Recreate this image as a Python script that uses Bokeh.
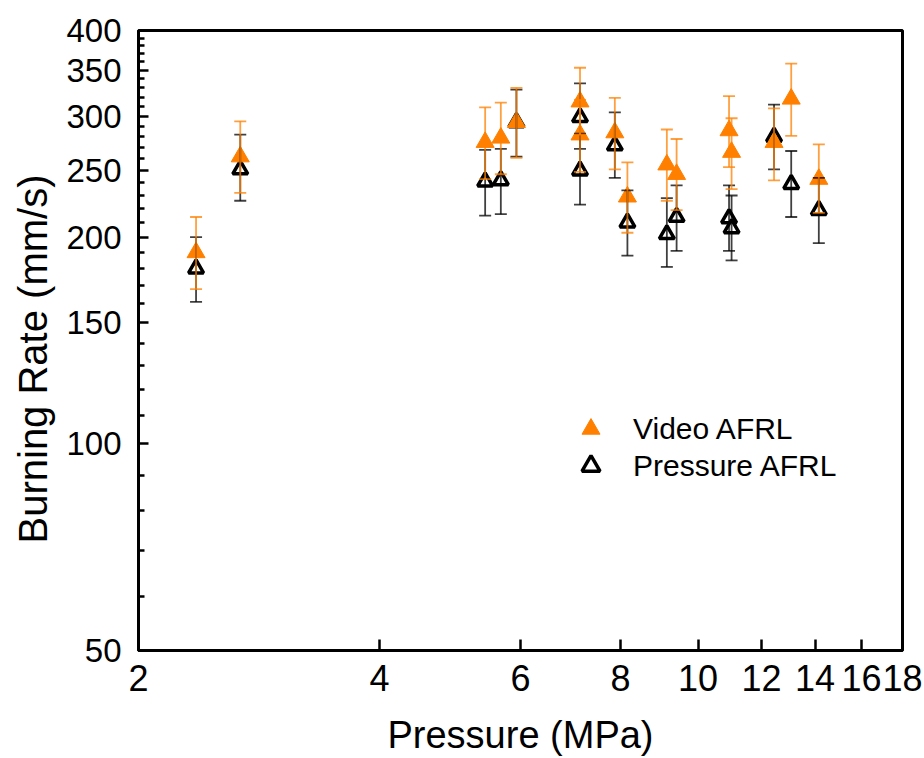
from bokeh.plotting import figure
from bokeh.models import (ColumnDataSource, Range1d, FixedTicker, PrintfTickFormatter,
                          Whisker, TeeHead, Legend, LegendItem, Title)
from bokeh.embed import file_html
from bokeh.resources import INLINE

# ---- data ----
pressure_mpa = [2.36, 2.68, 5.42, 5.67, 5.93, 7.12, 7.12, 7.87, 8.16, 9.14, 9.40, 10.93, 11.01, 12.44, 13.07, 14.15]

video_rate = [190, 262, 275, 279, 294, 315, 282, 284, 229, 255, 247, 286, 266, 275, 318, 243]
video_lo   = [168, 232, 243, 247, 261, 282, 249, 251, 203, 226, 219, 253, 235, 242, 281, 217]
video_hi   = [214, 295, 309, 314, 330, 353, 317, 319, 257, 287, 278, 321, 298, 308, 358, 273]

press_rate = [180, 251, 241, 242, 294, 299, 250, 272, 210, 202, 214, 213, 206, 280, 239, 219]
press_lo   = [161, 226, 215, 216, 262, 269, 223, 244, 188, 181, 191, 191, 185, 251, 214, 196]
press_hi   = [200, 282, 268, 269, 328, 335, 283, 304, 234, 228, 238, 238, 230, 312, 267, 244]

x_ticks = [2, 4, 6, 8, 10, 12, 14, 16, 18]
y_ticks = [50, 100, 150, 200, 250, 300, 350, 400]
y_minor = [v for v in range(60, 400, 10) if v % 50 != 0]

series_names = ["Video AFRL", "Pressure AFRL"]
x_title = "Pressure (MPa)"
y_title = "Burning Rate (mm/s)"
ORANGE = "#FF8000"
FONT = "Liberation Sans"

# ---- figure ----
p = figure(width=924, height=758, x_axis_type="log", y_axis_type="log",
           x_range=Range1d(2, 18), y_range=Range1d(50, 400),
           output_backend="svg", toolbar_location=None,
           min_border_left=137, min_border_right=22, min_border_top=30, min_border_bottom=108)
p.background_fill_color = "white"
p.border_fill_color = "white"
p.grid.visible = False
p.outline_line_color = "black"
p.outline_line_width = 3

vsrc = ColumnDataSource(dict(x=pressure_mpa, y=video_rate, lo=video_lo, hi=video_hi))
psrc = ColumnDataSource(dict(x=pressure_mpa, y=press_rate, lo=press_lo, hi=press_hi))

r_press = p.scatter("x", "y", source=psrc, marker="triangle", size=15,
                    fill_color="white", line_color="black", line_width=3.5)
r_video = p.scatter("x", "y", source=vsrc, marker="triangle", size=18,
                    fill_color=ORANGE, line_color=ORANGE, line_width=1)

for src, col in [(psrc, "black"), (vsrc, ORANGE)]:
    w = Whisker(base="x", upper="hi", lower="lo", source=src, dimension="height",
                line_color=col, line_alpha=0.75, line_width=1.8, level="annotation",
                upper_head=TeeHead(size=12, line_color=col, line_alpha=0.75, line_width=1.8),
                lower_head=TeeHead(size=12, line_color=col, line_alpha=0.75, line_width=1.8))
    p.add_layout(w)

# ---- axes ----
xa = p.xaxis[0]
xa.ticker = FixedTicker(ticks=x_ticks, minor_ticks=[])
xa.formatter = PrintfTickFormatter(format="%d")
ya = p.yaxis[0]
ya.ticker = FixedTicker(ticks=y_ticks, minor_ticks=y_minor)
ya.formatter = PrintfTickFormatter(format="%d")

for ax in (xa, ya):
    ax.axis_line_width = 3
    ax.axis_line_color = "black"
    ax.major_tick_in = 10
    ax.major_tick_out = 0
    ax.minor_tick_in = 6
    ax.minor_tick_out = 0
    ax.major_tick_line_width = 2.5
    ax.minor_tick_line_width = 2.5
    ax.major_label_text_font = FONT
    ax.major_label_text_color = "black"
xa.major_tick_in = 11
xa.major_label_text_font_size = "36px"
ya.major_label_text_font_size = "33px"
xa.major_label_standoff = 14
ya.major_label_standoff = 17

xa.axis_label = x_title
xa.axis_label_text_font = FONT
xa.axis_label_text_font_style = "normal"
xa.axis_label_text_font_size = "38px"
xa.axis_label_text_color = "black"
xa.axis_label_standoff = 20

ytitle = Title(text=y_title, align="left", offset=107, standoff=17,
               text_font=FONT, text_font_size="40px", text_font_style="normal",
               text_color="black")
p.add_layout(ytitle, "left")

# ---- legend (one entry per box, to match row spacing) ----
common = dict(orientation="vertical", glyph_width=45, glyph_height=45, label_standoff=20,
              padding=0, margin=0, border_line_color=None, background_fill_alpha=0,
              label_text_font=FONT, label_text_font_size="30px", label_text_color="black")
leg1 = Legend(items=[LegendItem(label=series_names[0], renderers=[r_video])],
              location=(430, 199), **common)
leg2 = Legend(items=[LegendItem(label=series_names[1], renderers=[r_press])],
              location=(430, 162), **common)
p.add_layout(leg1)
p.add_layout(leg2)

open("out.html", "w").write(file_html(p, INLINE))
